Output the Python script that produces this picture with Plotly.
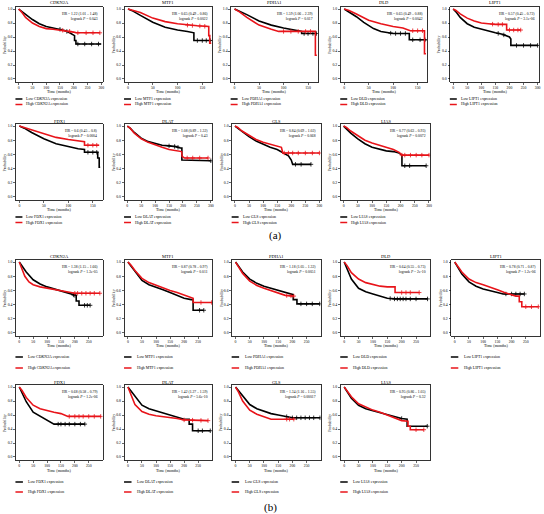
import plotly.graph_objects as go

# ---------------- DATA (time in months, survival probability) ----------------
genes_a1 = ["CDKN2A", "MTF1", "PDHA1", "DLD", "LIPT1"]
genes_a2 = ["FDX1", "DLAT", "GLS", "LIAS"]
genes_b1 = ["CDKN2A", "MTF1", "PDHA1", "DLD", "LIPT1"]
genes_b2 = ["FDX1", "DLAT", "GLS", "LIAS"]

hr_a = ["HR = 1.22 (1.01 – 1.48)", "HR = 0.65 (0.49 – 0.86)", "HR = 1.59 (1.06 – 2.39)",
        "HR = 0.65 (0.49 – 0.88)", "HR = 0.57 (0.45 – 0.72)", "HR = 0.6 (0.45 – 0.8)",
        "HR = 1.08 (0.89 – 1.32)", "HR = 0.84 (0.69 – 1.02)", "HR = 0.77 (0.63 – 0.93)"]
p_a = ["0.043", "0.0022", "0.017", "0.0042", "3.1e-06", "0.0004", "0.43", "0.068", "0.0072"]
hr_b = ["HR = 1.38 (1.15 – 1.66)", "HR = 0.87 (0.78 – 0.97)", "HR = 1.18 (1.05 – 1.32)",
        "HR = 0.64 (0.55 – 0.73)", "HR = 0.78 (0.71 – 0.87)", "HR = 0.68 (0.58 – 0.79)",
        "HR = 1.42 (1.27 – 1.59)", "HR = 1.34 (1.16 – 1.55)", "HR = 0.95 (0.86 – 1.05)"]
p_b = ["1.3e-05", "0.011", "0.0051", "2e-10", "1.2e-06", "1.2e-06", "5.6e-10", "0.00017", "0.32"]

a_cdkn2a_low = [(0,1),(10,0.97),(25,0.92),(50,0.85),(75,0.79),(100,0.75),(125,0.73),(150,0.71),(170,0.69),(185,0.66),(195,0.64),(203,0.62),(203,0.55),(208,0.55),(208,0.50),(300,0.50)]
a_cdkn2a_high = [(0,1),(10,0.96),(25,0.88),(50,0.80),(75,0.75),(100,0.72),(125,0.71),(150,0.70),(175,0.69),(200,0.67),(210,0.66),(295,0.66)]
a_mtf1_low = [(0,1),(10,0.97),(25,0.91),(50,0.81),(75,0.74),(100,0.70),(120,0.68),(133,0.66),(133,0.55),(168,0.55)]
a_mtf1_high = [(0,1),(10,0.98),(25,0.95),(50,0.87),(75,0.82),(100,0.79),(120,0.77),(140,0.76),(163,0.75),(163,0.62),(165,0.62),(165,0.51),(168,0.51)]
a_pdha1_low = [(0,1),(10,0.97),(25,0.92),(50,0.83),(75,0.77),(100,0.73),(120,0.70),(137,0.68),(137,0.65),(168,0.65)]
a_pdha1_high = [(0,1),(10,0.96),(25,0.88),(50,0.77),(75,0.71),(90,0.68),(130,0.68),(165,0.68),(165,0.34),(168,0.34)]
a_dld_low = [(0,1),(10,0.96),(25,0.89),(40,0.81),(50,0.77),(60,0.72),(75,0.68),(90,0.66),(100,0.65),(133,0.65),(133,0.56),(168,0.56)]
a_dld_high = [(0,1),(10,0.98),(25,0.93),(50,0.84),(75,0.79),(100,0.75),(120,0.73),(133,0.70),(135,0.69),(164,0.69),(164,0.36),(167,0.36)]
a_lipt1_low = [(0,1),(10,0.96),(25,0.88),(50,0.79),(75,0.74),(100,0.71),(125,0.69),(150,0.66),(175,0.64),(190,0.61),(200,0.60),(205,0.57),(205,0.48),(300,0.48)]
a_lipt1_high = [(0,1),(10,0.98),(25,0.93),(50,0.87),(75,0.83),(100,0.80),(125,0.79),(150,0.78),(190,0.78),(190,0.70),(240,0.70)]
a_fdx1_low = [(0,1),(10,0.97),(25,0.91),(50,0.82),(75,0.75),(100,0.71),(120,0.68),(133,0.67),(133,0.63),(160,0.63),(160,0.55),(163,0.55),(163,0.42),(165,0.42)]
a_fdx1_high = [(0,1),(10,0.98),(25,0.95),(50,0.89),(75,0.84),(100,0.81),(120,0.79),(133,0.78),(133,0.73),(163,0.73)]
a_dlat_low = [(0,1),(10,0.97),(25,0.91),(50,0.83),(75,0.78),(100,0.75),(125,0.73),(150,0.72),(175,0.71),(190,0.69),(196,0.69),(196,0.52),(300,0.51)]
a_dlat_high = [(0,1),(10,0.97),(25,0.90),(50,0.82),(75,0.77),(100,0.73),(125,0.70),(150,0.67),(175,0.65),(195,0.64),(197,0.57),(205,0.55),(290,0.55)]
a_gls_low = [(0,1),(10,0.97),(25,0.92),(50,0.85),(75,0.79),(100,0.74),(125,0.70),(150,0.67),(165,0.64),(175,0.62),(190,0.58),(200,0.52),(205,0.46),(270,0.46)]
a_gls_high = [(0,1),(10,0.98),(25,0.93),(50,0.87),(75,0.81),(100,0.77),(125,0.74),(150,0.71),(165,0.70),(170,0.62),(300,0.62)]
a_lias_low = [(0,1),(10,0.96),(25,0.90),(50,0.82),(75,0.75),(100,0.70),(125,0.67),(150,0.65),(175,0.64),(195,0.62),(205,0.59),(205,0.44),(290,0.44)]
a_lias_high = [(0,1),(10,0.98),(25,0.93),(50,0.86),(75,0.80),(100,0.76),(125,0.73),(150,0.70),(175,0.67),(195,0.63),(205,0.59),(300,0.59)]

b_cdkn2a_low = [(0,1),(10,0.94),(25,0.86),(50,0.75),(75,0.69),(100,0.65),(125,0.62),(150,0.60),(175,0.56),(200,0.53),(205,0.53),(205,0.45),(215,0.45),(215,0.39),(255,0.39)]
b_cdkn2a_high = [(0,1),(10,0.90),(20,0.80),(35,0.72),(50,0.68),(75,0.65),(100,0.63),(125,0.61),(150,0.59),(175,0.57),(200,0.56),(290,0.56)]
b_mtf1_low = [(0,1),(10,0.95),(25,0.86),(50,0.74),(75,0.68),(100,0.65),(125,0.61),(150,0.57),(175,0.53),(200,0.49),(225,0.47),(232,0.47),(232,0.32),(270,0.32)]
b_mtf1_high = [(0,1),(10,0.96),(25,0.88),(50,0.77),(75,0.71),(100,0.67),(125,0.64),(150,0.60),(175,0.57),(200,0.53),(225,0.50),(232,0.49),(232,0.43),(298,0.43)]
b_pdha1_low = [(0,1),(10,0.95),(25,0.86),(50,0.76),(75,0.70),(100,0.66),(125,0.63),(150,0.60),(175,0.57),(200,0.54),(203,0.54),(203,0.47),(216,0.47),(216,0.41),(296,0.41)]
b_pdha1_high = [(0,1),(10,0.94),(25,0.84),(50,0.73),(75,0.67),(100,0.63),(125,0.60),(150,0.57),(175,0.53),(205,0.52)]
b_dld_low = [(0,1),(10,0.90),(25,0.76),(50,0.63),(75,0.58),(100,0.55),(125,0.52),(150,0.49),(175,0.48),(290,0.48)]
b_dld_high = [(0,1),(10,0.95),(25,0.85),(50,0.76),(75,0.71),(100,0.68),(125,0.66),(150,0.65),(177,0.65),(177,0.57),(261,0.57)]
b_lipt1_low = [(0,1),(10,0.93),(25,0.83),(50,0.72),(75,0.66),(100,0.62),(125,0.60),(150,0.57),(170,0.55),(245,0.55)]
b_lipt1_high = [(0,1),(10,0.95),(25,0.86),(50,0.76),(75,0.71),(100,0.68),(125,0.65),(150,0.61),(175,0.57),(200,0.54),(215,0.52),(227,0.52),(227,0.44),(236,0.44),(236,0.37),(294,0.37)]
b_fdx1_low = [(0,1),(10,0.92),(25,0.79),(50,0.64),(75,0.58),(100,0.53),(115,0.49),(125,0.47),(236,0.47)]
b_fdx1_high = [(0,1),(10,0.95),(25,0.85),(50,0.74),(75,0.69),(100,0.66),(125,0.64),(150,0.62),(175,0.58),(200,0.58),(293,0.58)]
b_dlat_low = [(0,1),(10,0.95),(25,0.86),(50,0.74),(75,0.69),(100,0.66),(125,0.63),(150,0.60),(175,0.57),(200,0.54),(218,0.54),(218,0.47),(230,0.47),(230,0.375),(293,0.375)]
b_dlat_high = [(0,1),(10,0.90),(25,0.75),(50,0.65),(75,0.61),(100,0.59),(125,0.58),(150,0.57),(175,0.55),(200,0.53),(285,0.52)]
b_gls_low = [(0,1),(10,0.95),(25,0.86),(50,0.75),(75,0.69),(100,0.65),(125,0.62),(150,0.60),(175,0.58),(200,0.56),(297,0.56)]
b_gls_high = [(0,1),(10,0.93),(25,0.80),(50,0.67),(75,0.61),(100,0.57),(125,0.54),(205,0.54)]
b_lias_low = [(0,1),(10,0.94),(25,0.84),(50,0.74),(75,0.69),(100,0.66),(125,0.63),(150,0.60),(175,0.58),(200,0.55),(219,0.54),(219,0.44),(289,0.44)]
b_lias_high = [(0,1),(10,0.95),(25,0.86),(50,0.76),(75,0.71),(100,0.67),(125,0.64),(150,0.60),(175,0.56),(200,0.52),(222,0.51),(222,0.44),(230,0.44),(230,0.39),(277,0.39)]

# censoring times (+ marks)
cens_a_low = [[150,175,215,240,265,290],[140,150,158,166],[142,150,160,167],[95,105,115,125,140,155,165],[160,180,225,250,275,300],
              [140,150,158],[150,170,182,300],[215,235,270],[215,232,290]]
cens_a_high = [[160,185,215,245,270,295],[120,130,145,155],[100,115,130,145,155],[140,150,160],[140,160,175,200,215,230,240],
               [140,150,158],[215,235,260,290],[175,190,205,225,250,275,300],[205,215,235,255,275,300]]
cens_b_low = [[195,200,235,245,255],[255,270],[230,250,270,296],[160,175,185,195,205,215,230,250,290],[180,200,215,230,245],
              [140,150,165,180,200,220,236],[250,265,293],[180,200,215,230,245,260,275,297],[200,289]]
cens_b_high = [[200,210,225,240,255,270,290],[260,298],[180,195,205],[200,215,230,261],[250,270,294],
               [180,200,215,230,250,270,293],[200,230,260,285],[180,190,205],[250,277]]

curves_a = [(a_cdkn2a_low, a_cdkn2a_high), (a_mtf1_low, a_mtf1_high), (a_pdha1_low, a_pdha1_high),
            (a_dld_low, a_dld_high), (a_lipt1_low, a_lipt1_high), (a_fdx1_low, a_fdx1_high),
            (a_dlat_low, a_dlat_high), (a_gls_low, a_gls_high), (a_lias_low, a_lias_high)]
curves_b = [(b_cdkn2a_low, b_cdkn2a_high), (b_mtf1_low, b_mtf1_high), (b_pdha1_low, b_pdha1_high),
            (b_dld_low, b_dld_high), (b_lipt1_low, b_lipt1_high), (b_fdx1_low, b_fdx1_high),
            (b_dlat_low, b_dlat_high), (b_gls_low, b_gls_high), (b_lias_low, b_lias_high)]

# ---------------- LAYOUT ----------------
W, H = 544, 514
FONT = "Liberation Serif, DejaVu Serif, serif"
BLACK = "#000000"
RED = "#e8141a"

def fx(px):
    return px / W

def fy(py):
    return 1 - py / H

rows = {"a1": (7, 82), "a2": (124, 200), "b1": (260, 336), "b2": (385, 460)}
cols5 = [(16, 103), (125, 213), (232, 319), (342, 429), (452, 541)]
cols4 = [(16, 103), (125, 213), (233, 322), (342, 432)]
cols5b = [(16, 103), (125, 213), (233, 322), (342, 432), (453, 542)]
title_y = {"a1": 3, "a2": 121, "b1": 256, "b2": 382}
xlab_y = {"a1": 91, "a2": 209.5, "b1": 345.5, "b2": 470}
leg_y = {"a1": (99, 104.5), "a2": (217, 222.5), "b1": (357, 368), "b2": (482, 492)}

# x axis settings per panel
xr300 = ([-10, 305], [0, 50, 100, 150, 200, 250, 300])
xr150 = ([-7, 170], [0, 50, 100, 150])
xrb = ([-12, 300], [0, 50, 100, 150, 200, 250])
xset_a = [xr300, xr150, xr150, xr150, xr300, xr150, xr300, xr300, xr300]

panels = []
for i, g in enumerate(genes_a1):
    panels.append(("a1", cols5[i], g, curves_a[i], cens_a_low[i], cens_a_high[i], hr_a[i], p_a[i], xset_a[i]))
for i, g in enumerate(genes_a2):
    panels.append(("a2", cols4[i], g, curves_a[5 + i], cens_a_low[5 + i], cens_a_high[5 + i], hr_a[5 + i], p_a[5 + i], xset_a[5 + i]))
for i, g in enumerate(genes_b1):
    panels.append(("b1", cols5b[i], g, curves_b[i], cens_b_low[i], cens_b_high[i], hr_b[i], p_b[i], xrb))
for i, g in enumerate(genes_b2):
    panels.append(("b2", cols4[i], g, curves_b[5 + i], cens_b_low[5 + i], cens_b_high[5 + i], hr_b[5 + i], p_b[5 + i], xrb))


def surv_at(curve, t):
    for (t0, s0), (t1, s1) in zip(curve[:-1], curve[1:]):
        if t0 <= t <= t1 and t1 > t0:
            return s0 + (s1 - s0) * (t - t0) / (t1 - t0)
    return curve[-1][1]


fig = go.Figure()
annotations = []
shapes = []
layout_axes = {}
YR = [-0.043, 1.029]

for k, (row, (xl, xr), gene, (low, high), cl, ch, hr, pv, (xrange_, xticks)) in enumerate(panels):
    n = k + 1
    xa = "x" if n == 1 else f"x{n}"
    ya = "y" if n == 1 else f"y{n}"
    yt, yb = rows[row]
    lw = 1.6
    for curve, cens, col in ((low, cl, BLACK), (high, ch, RED)):
        fig.add_trace(go.Scatter(x=[p[0] for p in curve], y=[p[1] for p in curve], mode="lines",
                                 line=dict(color=col, width=lw), xaxis=xa, yaxis=ya,
                                 showlegend=False, hoverinfo="skip"))
        fig.add_trace(go.Scatter(x=cens, y=[surv_at(curve, c) for c in cens], mode="markers",
                                 marker=dict(symbol="cross-thin", size=3.2, color=col,
                                             line=dict(color=col, width=0.8)),
                                 xaxis=xa, yaxis=ya, showlegend=False, hoverinfo="skip"))
    axkw = dict(showline=True, linecolor="black", linewidth=0.8, mirror=True, ticks="outside",
                ticklen=2, tickwidth=0.6, tickcolor="black", showgrid=False, zeroline=False,
                tickfont=dict(family=FONT, size=3.8, color="black"))
    layout_axes["xaxis" if n == 1 else f"xaxis{n}"] = dict(
        domain=[fx(xl), fx(xr)], anchor=ya, range=xrange_, tickvals=xticks, **axkw)
    layout_axes["yaxis" if n == 1 else f"yaxis{n}"] = dict(
        domain=[fy(yb), fy(yt)], anchor=xa, range=YR, tickvals=[0, 0.2, 0.4, 0.6, 0.8, 1.0],
        tickformat=".1f", **axkw)
    cx = (xl + xr) / 2
    # title
    annotations.append(dict(x=fx(cx), y=fy(title_y[row]), xref="paper", yref="paper", text=gene,
                            showarrow=False, font=dict(family=FONT, size=4.5, color="black"),
                            xanchor="center", yanchor="middle"))
    # HR / logrank
    annotations.append(dict(x=fx(xr - 2.5), y=fy(yt + 2.5), xref="paper", yref="paper",
                            text=f"{hr}<br>logrank <i>P</i> = {pv}", showarrow=False, align="right",
                            font=dict(family=FONT, size=3.7, color="black"),
                            xanchor="right", yanchor="top"))
    # axis titles
    annotations.append(dict(x=fx(cx), y=fy(xlab_y[row]), xref="paper", yref="paper", text="Time (months)",
                            showarrow=False, font=dict(family=FONT, size=4, color="black"),
                            xanchor="center", yanchor="middle"))
    annotations.append(dict(x=fx(xl - 11.5), y=fy((yt + yb) / 2), xref="paper", yref="paper",
                            text="Probability", textangle=-90, showarrow=False,
                            font=dict(family=FONT, size=4, color="black"),
                            xanchor="center", yanchor="middle"))
    # legend
    ly1, ly2 = leg_y[row]
    wide = row.startswith("b")
    x0 = xl - 0.5
    x1 = x0 + (7.5 if wide else 7)
    tx = x1 + (3.5 if wide else 2)
    for ly, col, lab in ((ly1, BLACK, f"Low {gene} expression"), (ly2, RED, f"High {gene} expression")):
        shapes.append(dict(type="line", xref="paper", yref="paper", x0=fx(x0), x1=fx(x1),
                           y0=fy(ly), y1=fy(ly), line=dict(color=col, width=1.5)))
        annotations.append(dict(x=fx(tx), y=fy(ly), xref="paper", yref="paper", text=lab,
                                showarrow=False, font=dict(family=FONT, size=3.9, color="black"),
                                xanchor="left", yanchor="middle"))

annotations.append(dict(x=fx(277), y=fy(236), xref="paper", yref="paper", text="(a)", showarrow=False,
                        font=dict(family=FONT, size=11, color="black"), xanchor="center", yanchor="middle"))
annotations.append(dict(x=fx(271), y=fy(507), xref="paper", yref="paper", text="(b)", showarrow=False,
                        font=dict(family=FONT, size=11, color="black"), xanchor="center", yanchor="middle"))

fig.update_layout(width=W, height=H, margin=dict(l=0, r=0, t=0, b=0), paper_bgcolor="white",
                  plot_bgcolor="white", showlegend=False, annotations=annotations, shapes=shapes,
                  **layout_axes)

fig.write_html("out.html", config={"displayModeBar": False, "staticPlot": True},
               post_script="document.body.style.margin='0px';document.body.style.overflow='hidden';")
